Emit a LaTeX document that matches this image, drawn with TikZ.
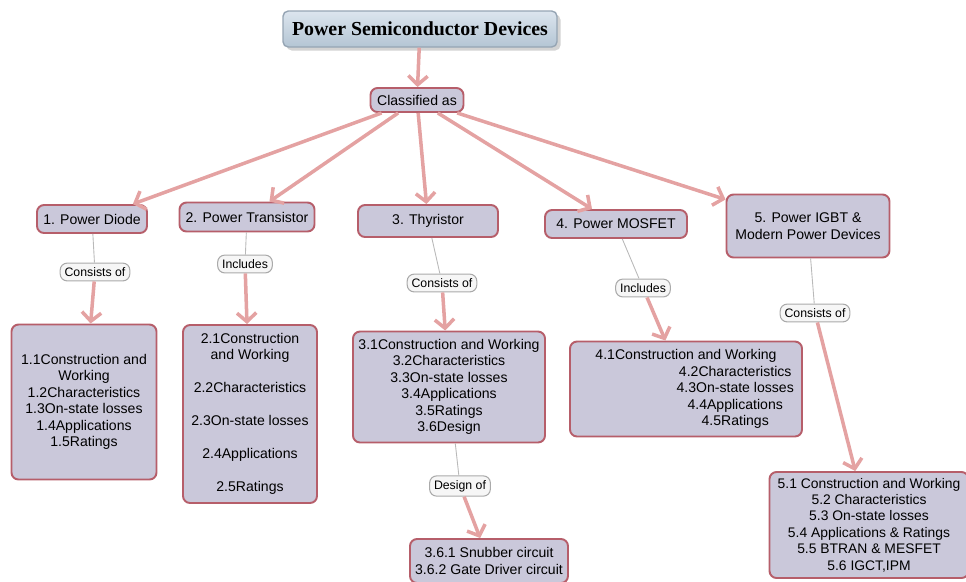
\documentclass[tikz,border=0pt]{standalone}
\usepackage{fontspec}
\setmainfont{Liberation Sans}
\newfontfamily\titelfont{Liberation Serif}
\usetikzlibrary{shadows, arrows.meta}

\definecolor{kastenrand}{RGB}{182,94,106}
\definecolor{kastenfill}{RGB}{202,200,218}
\definecolor{pfeilrosa}{RGB}{228,162,162}
\definecolor{liniegrau}{RGB}{185,185,185}
\definecolor{etikettrand}{RGB}{170,170,170}
\definecolor{etikettfill}{RGB}{246,246,246}
\definecolor{titeloben}{RGB}{220,229,238}
\definecolor{titelunten}{RGB}{180,197,212}
\definecolor{titelrand}{RGB}{150,165,180}

\begin{document}
\begin{tikzpicture}

% 0. Bildausschnitt (einige Kaesten ragen ueber den Rand)
\useasboundingbox (0,0) rectangle (19.32,-11.62);
\clip (0,0) rectangle (19.32,-11.62);

% 1. Stile fuer Kaesten, Etiketten und Verbindungen
\tikzset{kasten/.style={draw=kastenrand, line width=1.1pt, fill=kastenfill, rounded corners=4pt, align=center, inner sep=2pt, font=\fontsize{8}{9.4}\selectfont}}
\tikzset{etikett/.style={draw=etikettrand, line width=0.6pt, fill=etikettfill, rounded corners=4pt, inner sep=2.5pt, font=\fontsize{7}{8.5}\selectfont}}
\tikzset{titel/.style={draw=titelrand, line width=0.8pt, top color=titeloben, bottom color=titelunten, rounded corners=3pt, drop shadow={opacity=0.35, shadow xshift=2pt, shadow yshift=-2pt}, minimum width=5.48cm, minimum height=0.72cm, font=\titelfont\bfseries\fontsize{11.3}{13}\selectfont}}
\tikzset{pfeil/.style={draw=pfeilrosa, line width=2pt, -{Straight Barb[length=5pt,width=11pt]}}}
\tikzset{linie/.style={draw=liniegrau, line width=0.5pt}}

% 2. Titel und Verzweigung
\node[titel] (titel) at (8.4, -0.58) {Power Semiconductor Devices};
\node[kasten, minimum width=1.86cm, minimum height=0.48cm] (klass) at (8.34, -2.0) {Classified as};

% 3. Die fuenf Bauelementgruppen
\node[kasten, minimum width=2.2cm, minimum height=0.56cm] (diode) at (1.84, -4.38) {1. Power Diode};
\node[kasten, minimum width=2.7cm, minimum height=0.58cm] (transistor) at (4.94, -4.34) {2. Power Transistor};
\node[kasten, minimum width=2.8cm, minimum height=0.64cm] (thyristor) at (8.56, -4.42) {3. Thyristor};
\node[kasten, minimum width=2.84cm, minimum height=0.56cm] (mosfet) at (12.32, -4.48) {4. Power MOSFET};
\node[kasten, minimum width=3.26cm, minimum height=1.26cm] (igbt) at (16.16, -4.52) {5. Power IGBT \&\\Modern Power Devices};

% 4. Etiketten an den Verbindungen
\node[etikett] (lab1) at (1.9, -5.44) {Consists of};
\node[etikett] (lab2) at (4.9, -5.28) {Includes};
\node[etikett] (lab3) at (8.84, -5.66) {Consists of};
\node[etikett] (lab4) at (12.86, -5.76) {Includes};
\node[etikett] (lab5) at (16.3, -6.26) {Consists of};
\node[etikett] (lab6) at (9.2, -9.72) {Design of};

% 5. Inhaltskaesten
\node[kasten, minimum width=2.9cm, minimum height=3.1cm] (inhalt1) at (1.68, -8.04) {1.1Construction and\\Working\\1.2Characteristics\\1.3On-state losses\\1.4Applications\\1.5Ratings};
\node[kasten, minimum width=2.68cm, minimum height=3.56cm] (inhalt2) at (5.0, -8.28) {2.1Construction\\and Working\\[9.4pt]2.2Characteristics\\[9.4pt]2.3On-state losses\\[9.4pt]2.4Applications\\[9.4pt]2.5Ratings};
\node[kasten, minimum width=3.84cm, minimum height=2.22cm] (inhalt3) at (8.98, -7.74) {3.1Construction and Working\\3.2Characteristics\\3.3On-state losses\\3.4Applications\\3.5Ratings\\3.6Design};
\node[kasten, minimum width=4.64cm, minimum height=1.9cm] (inhalt4) at (13.72, -7.78) {4.1Construction and Working\\\hspace*{56pt}4.2Characteristics\\\hspace*{56pt}4.3On-state losses\\\hspace*{56pt}4.4Applications\\\hspace*{56pt}4.5Ratings};
\node[kasten, minimum width=3.16cm, minimum height=0.88cm] (inhalt6) at (9.78, -11.22) {3.6.1 Snubber circuit\\3.6.2 Gate Driver circuit};
\node[kasten, minimum width=3.98cm, minimum height=2.12cm, font=\fontsize{7.9}{9.3}\selectfont] (inhalt5) at (17.38, -10.5) {5.1 Construction and Working\\5.2 Characteristics\\5.3 On-state losses\\5.4 Applications \& Ratings\\5.5 BTRAN \& MESFET\\5.6 IGCT,IPM};

% 6. Verbindungen
\draw[pfeil] (titel) -- (klass);
\draw[pfeil] (klass) -- (diode);
\draw[pfeil] (klass) -- (transistor);
\draw[pfeil] (klass) -- (thyristor);
\draw[pfeil] (klass) -- (mosfet);
\draw[pfeil] (klass) -- (igbt);

\draw[linie] (diode) -- (lab1);
\draw[linie] (transistor) -- (lab2);
\draw[linie] (thyristor) -- (lab3);
\draw[linie] (mosfet) -- (lab4);
\draw[linie] (igbt) -- (lab5);
\draw[linie] (inhalt3) -- (lab6);

\draw[pfeil] (lab1) -- (inhalt1);
\draw[pfeil] (lab2) -- (inhalt2);
\draw[pfeil] (lab3) -- (inhalt3);
\draw[pfeil] (lab4) -- (inhalt4);
\draw[pfeil] (lab5) -- (inhalt5);
\draw[pfeil] (lab6) -- (inhalt6);

\end{tikzpicture}
\end{document}
